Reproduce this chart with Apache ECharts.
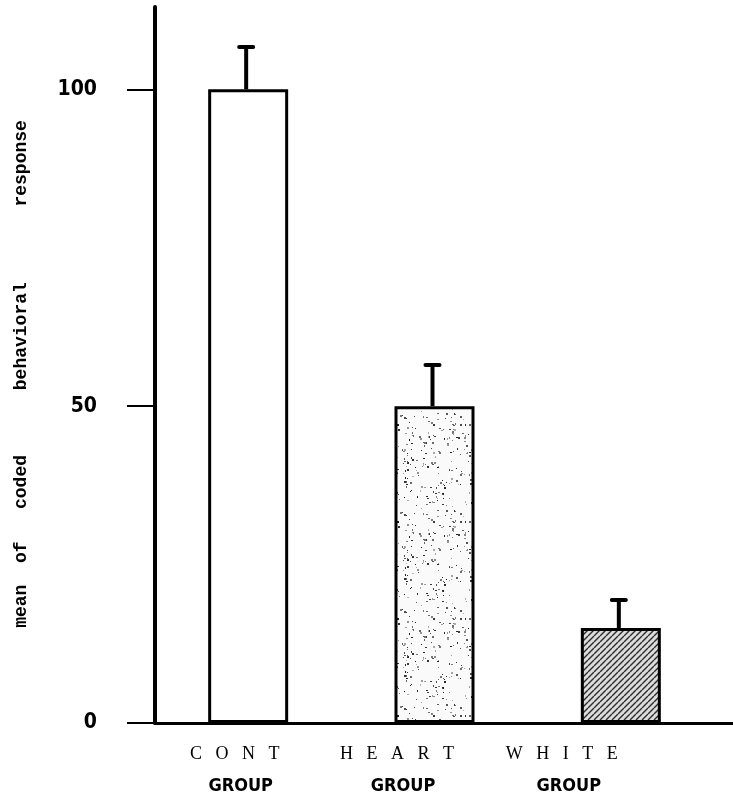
<!DOCTYPE html>
<html>
<head>
<meta charset="utf-8">
<script src="https://cdn.jsdelivr.net/npm/echarts@6/dist/echarts.min.js"></script>
<style>
  html, body { margin: 0; padding: 0; background: #fff; }
  #chart { width: 733px; height: 801px; }
</style>
</head>
<body>
<div id="chart"></div>
<script>
// Group names, mean scores and top of the error bar for each group
const groups = ['CONT', 'HEART', 'WHITE'];
const means = [100, 50, 15];
const upperErr = [106.7, 56.5, 19.4];
const yTicks = [0, 50, 100];
const yMax = 113;
const yTitle = 'mean  of   coded      behavioral       response';

// Letter-spaced group captions
const groupCaptions = groups.map(g => g.split('').join('   '));

// Fill textures for the bars
function speckleTexture() {
  const size = 97;
  const c = document.createElement('canvas');
  c.width = c.height = size;
  const g = c.getContext('2d');
  g.fillStyle = '#fafafa';
  g.fillRect(0, 0, size, size);
  let s = 24681;
  const next = () => { s = (s * 1103515245 + 12345) & 0x7fffffff; return s / 0x7fffffff; };
  for (let i = 0; i < 260; i++) {
    const x = Math.floor(next() * size);
    const y = Math.floor(next() * size);
    const shade = Math.floor(30 + next() * 150);
    g.fillStyle = `rgb(${shade},${shade},${shade})`;
    g.fillRect(x, y, next() < 0.4 ? 2 : 1, next() < 0.4 ? 2 : 1);
  }
  return c;
}

function hatchTexture() {
  const size = 6;
  const c = document.createElement('canvas');
  c.width = c.height = size;
  const g = c.getContext('2d');
  g.fillStyle = '#dcdcdc';
  g.fillRect(0, 0, size, size);
  g.strokeStyle = '#2e2e2e';
  g.lineWidth = 1.4;
  [0, size, 2 * size].forEach(k => {
    g.beginPath();
    g.moveTo(k - size, size);
    g.lineTo(k, 0);
    g.stroke();
  });
  return c;
}

const fills = [
  '#ffffff',
  { image: speckleTexture(), repeat: 'repeat' },
  { image: hatchTexture(), repeat: 'repeat' }
];

const chart = echarts.init(document.getElementById('chart'), null, { renderer: 'canvas' });

const titleFont = '"Liberation Mono", "DejaVu Sans Mono", monospace';
const narrowFont = '"Liberation Sans Narrow", "DejaVu Sans Condensed", "Liberation Sans", sans-serif';
const serifFont = '"Liberation Serif", "DejaVu Serif", serif';

// Per-group caption styles (first line: spaced name, second line: GROUP)
const capShift = [27, 75, 118];
const groupShift = [15, 63, 104];
const rich = {};
groups.forEach((g, i) => {
  rich['t' + i] = {
    fontFamily: serifFont, fontSize: 18, color: '#000', lineHeight: 31,
    padding: [0, capShift[i], 0, 0]
  };
  rich['g' + i] = {
    fontFamily: narrowFont, fontSize: 18, fontWeight: 'bold', color: '#000', lineHeight: 33,
    padding: [0, groupShift[i], 0, 0]
  };
});

const option = {
  animation: false,
  backgroundColor: '#fff',
  grid: [
    { left: 155, right: 19, top: 7, bottom: 78, containLabel: false, outerBoundsMode: 'none' },
    { left: 155, right: 0, top: 7, bottom: 78, containLabel: false, outerBoundsMode: 'none' }
  ],
  xAxis: [
    {
      type: 'category',
      gridIndex: 0,
      data: groups,
      axisLine: { show: false },
      axisTick: { show: false },
      axisLabel: {
        interval: 0,
        margin: 16,
        formatter: (v, i) => `{t${i}|${groupCaptions[i]}}\n{g${i}|GROUP}`,
        rich: rich
      },
      splitLine: { show: false }
    },
    {
      type: 'value',
      gridIndex: 1,
      min: 0,
      max: 1,
      axisLine: { show: true, onZero: false, lineStyle: { color: '#000', width: 3 } },
      axisTick: { show: false },
      axisLabel: { show: false },
      splitLine: { show: false }
    }
  ],
  yAxis: [
    {
      type: 'value',
      gridIndex: 0,
      min: 0,
      max: yMax,
      interval: 50,
      axisLine: { show: true, lineStyle: { color: '#000', width: 4 } },
      axisTick: {
        show: true, length: 28, customValues: yTicks,
        lineStyle: { color: '#000', width: 2 }
      },
      axisLabel: {
        customValues: yTicks,
        margin: 58,
        fontFamily: narrowFont,
        fontWeight: 'bold',
        fontSize: 21,
        color: '#000'
      },
      splitLine: { show: false },
      name: yTitle,
      nameLocation: 'middle',
      nameGap: 125,
      nameTextStyle: {
        fontFamily: titleFont,
        fontSize: 18,
        fontWeight: 'bold',
        color: '#000',
        padding: [0, 18, 0, 0]
      }
    },
    {
      type: 'value',
      gridIndex: 1,
      min: 0,
      max: 1,
      show: false
    }
  ],
  series: [
    {
      type: 'bar',
      xAxisIndex: 0,
      yAxisIndex: 0,
      barWidth: 80,
      data: means.map((v, i) => ({
        value: v,
        itemStyle: { color: fills[i] }
      })),
      itemStyle: { borderColor: '#000', borderWidth: 3 },
      z: 2
    },
    {
      type: 'custom',
      xAxisIndex: 0,
      yAxisIndex: 0,
      z: 3,
      data: groups.map((g, i) => [i, means[i], upperErr[i]]),
      renderItem: (params, api) => {
        const base = api.coord([api.value(0), api.value(1)]);
        const top = api.coord([api.value(0), api.value(2)]);
        const x = base[0] - 2;
        return {
          type: 'group',
          children: [
            {
              type: 'line',
              shape: { x1: x, y1: base[1], x2: x, y2: top[1] },
              style: { stroke: '#000', lineWidth: 4 }
            },
            {
              type: 'line',
              shape: { x1: x - 7, y1: top[1], x2: x + 7, y2: top[1] },
              style: { stroke: '#000', lineWidth: 4, lineCap: 'round' }
            }
          ]
        };
      }
    }
  ]
};

chart.setOption(option);
</script>
</body>
</html>
